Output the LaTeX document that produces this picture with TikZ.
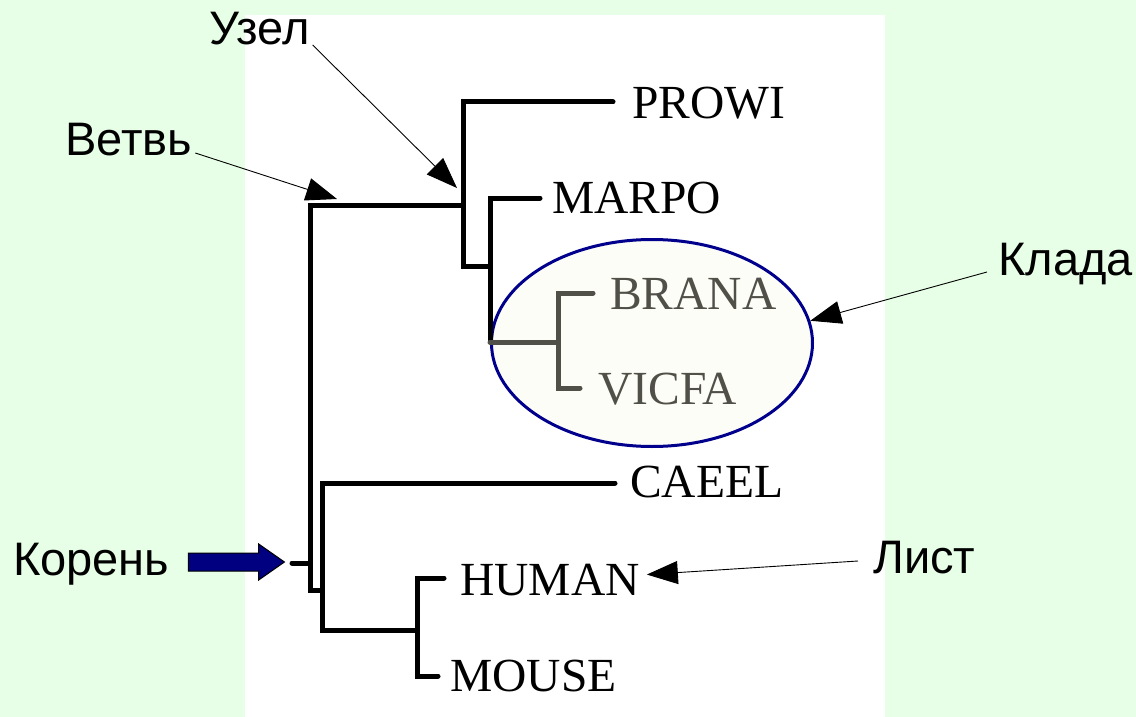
\documentclass[tikz,border=0pt]{standalone}
\usepackage{fontspec}
\setmainfont{Liberation Serif}
\newfontfamily\lblfont{Liberation Sans}
\usepackage{xcolor}
\definecolor{bggreen}{RGB}{230,255,230}
\definecolor{cladefill}{RGB}{253,253,247}
\definecolor{cladeline}{RGB}{0,0,140}
\definecolor{cladegray}{RGB}{80,80,72}
\definecolor{rootblue}{RGB}{0,0,128}
\usepackage{tikz}
\usetikzlibrary{arrows.meta, shapes.geometric, shapes.arrows}

\begin{document}
\begin{tikzpicture}[
  x=1pt, y=-1pt,
  branch/.style={line width=5pt, line cap=round, line join=miter},
  cladebranch/.style={branch, draw=cladegray},
  taxon/.style={anchor=base west, inner sep=0pt, font=\fontsize{47.5}{52}\selectfont},
  cladetaxon/.style={taxon, text=cladegray},
  lbl/.style={anchor=base west, inner sep=0pt, font=\lblfont\fontsize{47}{52}\selectfont},
  arr/.style={-{Triangle[length=31pt, width=23pt]}, line width=0.9pt}
]
% background
\fill[bggreen] (0,0) rectangle (1136,717);
\fill[white] (245,15) rectangle (885,717);
\useasboundingbox (0,0) rectangle (1136,717);

% clade
\node[ellipse, draw=cladeline, line width=3pt, fill=cladefill, inner sep=0pt,
      minimum width=321pt, minimum height=207pt] (clade) at (652,343) {};

% tree
\draw[branch] (292,563) -- (310,563);
\draw[branch] (463,205) -- (310,205) -- (310,590) -- (322,590);
\draw[branch] (613,102) -- (463,102) -- (463,266) -- (490,266);
\draw[branch] (540,198) -- (490,198) -- (490,342);
\draw[cladebranch] (490,342) -- (558,342);
\draw[cladebranch] (593,293) -- (558,293) -- (558,388) -- (580,388);
\draw[branch] (615,483) -- (322,483) -- (322,630) -- (417,630);
\draw[branch] (444,578) -- (417,578) -- (417,676) -- (438,676);

% leaves
\node[taxon] (prowi) at (632,118) {PROWI};
\node[taxon] (marpo) at (552,213) {MARPO};
\node[cladetaxon] (brana) at (610,309) {BRANA};
\node[cladetaxon] (vicfa) at (598,404) {VICFA};
\node[taxon] (caeel) at (630,497) {CAEEL};
\node[taxon] (human) at (460,595) {HUMAN};
\node[taxon] (mouse) at (450,691) {MOUSE};

% labels
\node[lbl] (uzel)  at (209,45)  {Узел};
\node[lbl] (vetv)  at (65,155)  {Ветвь};
\node[lbl] (klada) at (998,275) {Клада};
\node[lbl] (koren) at (13,575)  {Корень};
\node[lbl] (list)  at (873,573) {Лист};

% pointers
\coordinate (uzelpt) at (457,188);
\coordinate (vetvpt) at (337,199);
\draw[arr] ([xshift=3pt]uzel.base east) -- (uzelpt);
\draw[arr] ([xshift=3pt, yshift=2pt]vetv.base east) -- (vetvpt);
\draw[arr] ([xshift=-11pt, yshift=3pt]klada.base west) -- (clade.8);
\draw[arr] ([xshift=-15pt, yshift=12pt]list.base west) -- ([xshift=7pt, yshift=5pt]human.east);
\node[single arrow, draw=black, line width=1pt, fill=rootblue,
      inner xsep=0pt, inner ysep=8.5pt, minimum height=96pt,
      single arrow head extend=9pt, single arrow tip angle=70] (rootarrow) at (230,562) {};
\end{tikzpicture}
\end{document}
